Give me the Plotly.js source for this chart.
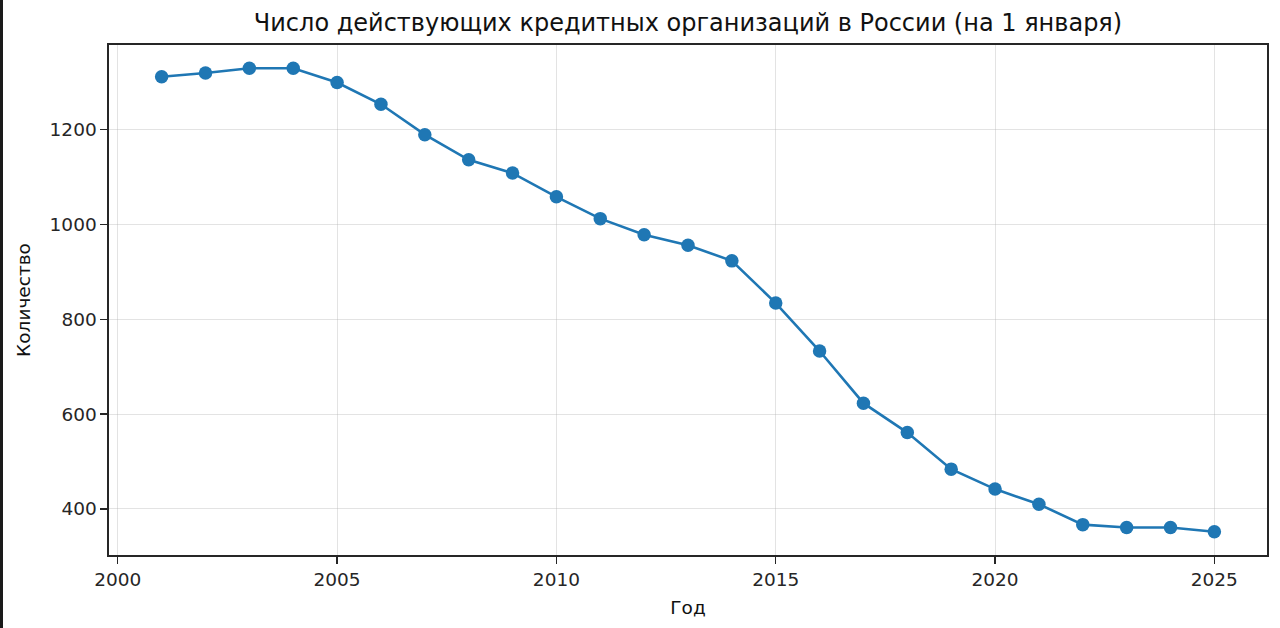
<!DOCTYPE html>
<html>
<head>
<meta charset="utf-8">
<script src="https://cdn.plot.ly/plotly-3.0.1.min.js"></script>
<style>
  html, body { margin: 0; padding: 0; background: #fff; }
  #chart { position: absolute; left: 0; top: 0; width: 1280px; height: 628px; }
  #edge { position: absolute; left: 0; top: 0; width: 3px; height: 628px; background: #1a1a1a; }
</style>
</head>
<body>
<div id="chart"></div>
<div id="edge"></div>
<script>
const years = [2001, 2002, 2003, 2004, 2005, 2006, 2007, 2008, 2009, 2010, 2011, 2012, 2013,
               2014, 2015, 2016, 2017, 2018, 2019, 2020, 2021, 2022, 2023, 2024, 2025];
const counts = [1311, 1319, 1329, 1329, 1299, 1253, 1189, 1136, 1108, 1058, 1012, 978, 956,
                923, 834, 733, 623, 561, 484, 442, 410, 367, 361, 361, 352];
const xTicks = [2000, 2005, 2010, 2015, 2020, 2025];
const yTicks = [400, 600, 800, 1000, 1200];

const titleText = 'Число действующих кредитных организаций в России (на 1 января)';
const xTitle = 'Год';
const yTitle = 'Количество';

const font = 'DejaVu Sans, sans-serif';
const axisCommon = {
  showline: true, mirror: true, linecolor: '#262626', linewidth: 1.6,
  ticks: 'outside', ticklen: 7, tickwidth: 1.4, tickcolor: '#262626',
  showgrid: true, gridcolor: 'rgba(176,176,176,0.35)', gridwidth: 1,
  zeroline: false,
  tickfont: { family: font, size: 18.5, color: '#262626' }
};

const trace = {
  x: years, y: counts, type: 'scatter', mode: 'lines+markers',
  line: { color: '#1f77b4', width: 2.6 },
  marker: { color: '#1f77b4', size: 13.5 },
  hoverinfo: 'x+y'
};

const layout = {
  width: 1280, height: 628,
  margin: { l: 109, r: 13, t: 45, b: 73 },
  paper_bgcolor: '#fff', plot_bgcolor: '#fff',
  showlegend: false,
  title: { text: titleText, font: { family: font, size: 24, color: '#111' },
           x: 0.5, xref: 'paper', y: 1, yref: 'container', yanchor: 'top', pad: { t: 14 } },
  xaxis: Object.assign({}, axisCommon, {
    range: [1999.8, 2026.2], tickvals: xTicks, ticktext: xTicks.map(String),
    title: { text: xTitle, font: { family: font, size: 18.5, color: '#111' }, standoff: 12 }
  }),
  yaxis: Object.assign({}, axisCommon, {
    range: [303, 1378], tickvals: yTicks, ticktext: yTicks.map(String),
    title: { text: yTitle, font: { family: font, size: 18.5, color: '#111' }, standoff: 14 }
  })
};

Plotly.newPlot('chart', [trace], layout, { displayModeBar: false, staticPlot: true });
</script>
</body>
</html>
